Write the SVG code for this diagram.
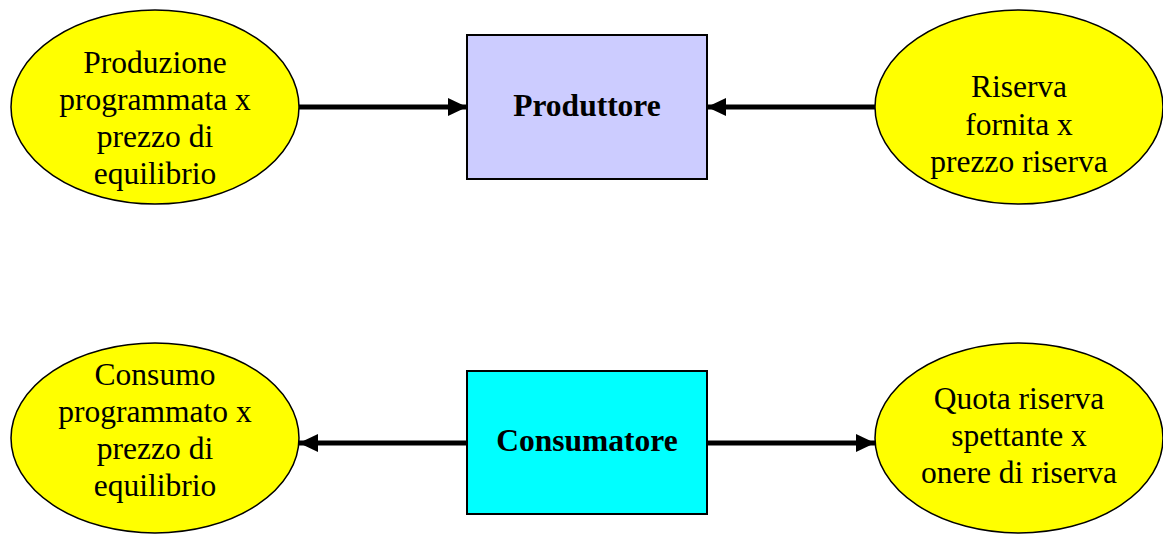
<svg xmlns="http://www.w3.org/2000/svg" width="1163" height="535" viewBox="0 0 1163 535">
<style>
.ell{fill:#FFFF00;stroke:#000;stroke-width:1.5}
.box{stroke:#000;stroke-width:2}
.t{font-family:"Liberation Serif","Times New Roman",serif;font-size:31.5px;fill:#000;text-anchor:middle}
.b{font-weight:bold}
.con{stroke:#000;stroke-width:5;fill:none;marker-end:url(#ah)}
</style>
<defs>
<marker id="ah" markerUnits="userSpaceOnUse" markerWidth="20" markerHeight="18" refX="19" refY="9" orient="auto">
<path d="M0,0 L19,9 L0,18 Z" fill="#000"/>
</marker>
</defs>
<rect width="1163" height="535" fill="#fff"/>
<g id="connectors">
<line class="con" x1="299" y1="107" x2="467" y2="107"/>
<line class="con" x1="875" y1="107" x2="707" y2="107"/>
<line class="con" x1="467" y1="443" x2="299" y2="443"/>
<line class="con" x1="707" y1="443" x2="875" y2="443"/>
</g>
<g id="n_produzione">
<ellipse class="ell" cx="155" cy="107" rx="144" ry="97"/>
<text class="t" x="155" y="73">Produzione</text>
<text class="t" x="155" y="110">programmata x</text>
<text class="t" x="155" y="147">prezzo di</text>
<text class="t" x="155" y="184">equilibrio</text>
</g>
<g id="n_produttore">
<rect class="box" x="467" y="35" width="240" height="144" fill="#CCCCFF"/>
<text class="t b" x="587" y="116">Produttore</text>
</g>
<g id="n_riserva">
<ellipse class="ell" cx="1019" cy="107" rx="144" ry="97"/>
<text class="t" x="1019" y="97">Riserva</text>
<text class="t" x="1019" y="135">fornita x</text>
<text class="t" x="1019" y="172">prezzo riserva</text>
</g>
<g id="n_consumo">
<ellipse class="ell" cx="155" cy="438" rx="144" ry="95"/>
<text class="t" x="155" y="385">Consumo</text>
<text class="t" x="155" y="422">programmato x</text>
<text class="t" x="155" y="459">prezzo di</text>
<text class="t" x="155" y="496">equilibrio</text>
</g>
<g id="n_consumatore">
<rect class="box" x="467" y="371" width="240" height="143" fill="#00FFFF"/>
<text class="t b" x="587" y="451">Consumatore</text>
</g>
<g id="n_quota">
<ellipse class="ell" cx="1019" cy="438" rx="144" ry="95"/>
<text class="t" x="1019" y="409">Quota riserva</text>
<text class="t" x="1019" y="446">spettante x</text>
<text class="t" x="1019" y="483">onere di riserva</text>
</g>
</svg>
